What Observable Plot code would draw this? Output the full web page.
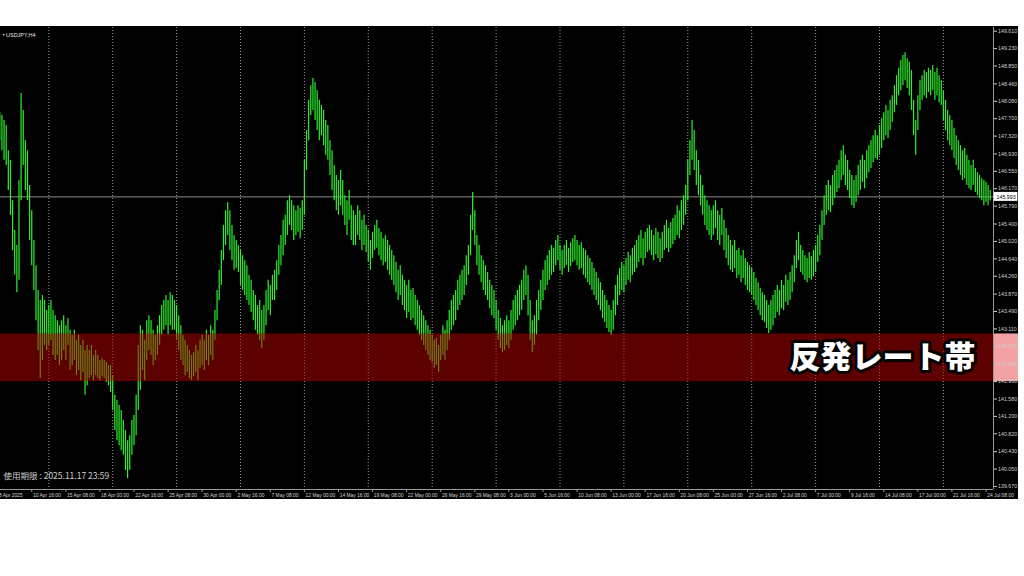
<!DOCTYPE html>
<html><head><meta charset="utf-8">
<script src="https://cdn.jsdelivr.net/npm/d3@7"></script>
<script src="https://cdn.jsdelivr.net/npm/@observablehq/plot@0.6"></script>
<style>
html,body{margin:0;padding:0;background:#fff;width:1024px;height:576px;overflow:hidden;}
#chart{position:absolute;left:0;top:26px;width:1018px;height:473px;background:#000;overflow:hidden;}
#chart text[aria-label="band-label"]{filter:drop-shadow(3px 3px 0 #555555);}
</style></head><body><div id="chart"></div>
<script>
const symbolLabel = "USDJPY,H4";
const expiryText = "使用期限 : 2025.11.17 23:59";
const bandLabel = "反発レート帯";
const currentPrice = 145.993;
const bandLow = 141.96, bandHigh = 143.00;
const priceTicks = [149.610,149.230,148.850,148.460,148.080,147.700,147.320,146.930,146.550,146.170,145.790,145.400,145.020,144.640,144.260,143.870,143.490,143.110,142.730,142.340,141.960,141.580,141.200,140.820,140.430,140.050,139.670];
const timeLabels = ["8 Apr 2025","10 Apr 16:00","15 Apr 08:00","18 Apr 00:00","22 Apr 16:00","25 Apr 08:00","30 Apr 00:00","2 May 16:00","7 May 08:00","12 May 00:00","14 May 16:00","19 May 08:00","22 May 00:00","26 May 16:00","29 May 08:00","3 Jun 00:00","5 Jun 16:00","10 Jun 08:00","13 Jun 00:00","17 Jun 16:00","20 Jun 08:00","25 Jun 00:00","27 Jun 16:00","2 Jul 08:00","7 Jul 00:00","9 Jul 16:00","14 Jul 08:00","17 Jul 00:00","21 Jul 16:00","24 Jul 08:00"];
const barsPerLabel = 16;      // H4 bars between time labels
const barsPerWeek = 30;       // grid line every Monday 00:00
const firstMondayBar = 24;

// H4 bars [high, low], 8 Apr 00:00 onward
const aprBars = [[147.88,147.33],[147.83,147.22],[147.77,147.00],[147.66,146.79],[147.55,146.68],[147.00,146.13],
[146.79,145.59],[145.91,144.82],[145.26,144.28],[144.93,143.90],[146.35,144.17],[148.25,145.91],
[147.88,146.68],[147.22,146.13],[147.00,145.91],[146.24,145.04],[145.69,144.49],[145.04,143.95],
[144.49,143.29],[143.95,142.64],[143.73,142.03],[143.84,142.42],[143.73,142.75],[143.51,142.64],
[143.62,142.75],[143.73,142.86],[143.51,142.53],[143.40,142.42],[143.29,142.53],[143.18,142.31],
[143.29,142.42],[143.40,142.64],[143.18,142.42],[143.34,142.75],[143.08,142.20],[142.97,142.31],
[143.08,142.42],[142.86,142.09],[142.97,142.20],[142.75,141.98],[142.86,142.16],[142.64,141.66],
[142.75,141.87],[142.64,142.03],[142.75,142.09],[142.53,141.98],[142.64,142.09],[142.53,142.03],
[142.42,141.98],[142.46,142.07],[142.42,142.03],[142.38,141.94],[142.31,141.87],[142.31,141.72],
[142.09,141.33],[141.66,140.89],[141.55,140.67],[141.44,140.56],[141.33,140.45],[141.11,140.35],
[140.89,140.02],[140.67,139.84],[140.78,140.02],[141.11,140.35],[141.22,140.56],[141.66,140.78],
[142.75,141.33],[143.18,141.77],[143.08,142.20],[142.86,141.98],[143.29,142.42],[143.40,142.64],
[143.29,142.53],[143.08,142.31],[142.97,142.42],[143.18,142.53],[143.40,142.75],[143.62,142.97],
[143.73,143.08],[143.84,143.18],[143.73,142.97],[143.90,143.18],[143.84,143.08],[143.73,143.08],
[143.62,142.86],[143.40,142.64],[143.18,142.42],[142.97,142.31],[142.86,142.09],[142.75,142.16],
[142.64,142.03],[142.53,141.98],[142.59,142.07],[142.75,142.16],[142.64,141.98],[142.86,142.25],
[142.97,142.31],[142.86,142.20],[143.08,142.42],[142.97,142.31],[143.18,142.53],[143.08,142.42]];
const mayBars = [[143.51,142.86],[143.95,143.29],[144.39,143.73],[144.82,144.06],[145.37,144.60],[145.69,144.93],
[145.87,145.15],[145.69,144.82],[145.37,144.60],[145.15,144.39],[145.04,144.43],[144.93,144.34],
[144.82,144.06],[144.71,143.95],[144.60,143.84],[144.49,143.73],[144.28,143.62],[144.17,143.47],
[143.95,143.29],[143.84,143.08],[143.62,142.97],[143.73,142.86],[143.51,142.68],[143.62,142.86],
[143.95,143.18],[144.17,143.51],[144.06,143.40],[144.28,143.73],[144.39,143.73],[144.60,143.95],
[144.93,144.28],[145.15,144.49],[145.48,144.71],[145.59,144.93],[145.91,145.15],[146.02,145.37],
[145.91,145.26],[145.80,145.04],[145.69,145.15],[145.80,145.22],[145.74,145.08],[145.91,145.26],
[146.79,145.59],[147.44,146.57],[148.10,147.22],[148.42,147.77],[148.58,147.88],[148.49,147.66],
[148.31,147.44],[148.10,147.22],[147.99,147.33],[147.88,147.11],[147.66,146.90],[147.55,146.79],
[147.22,146.46],[147.00,146.13],[146.68,145.91],[146.46,145.69],[146.35,145.59],[146.57,145.80],
[146.35,145.59],[146.02,145.37],[145.91,145.15],[146.13,145.48],[145.80,145.04],[145.69,144.93],
[145.59,144.93],[145.80,145.15],[145.69,145.04],[145.48,144.82],[145.59,144.93],[145.37,144.78],
[145.26,144.56],[145.04,144.39],[145.22,144.65],[145.37,144.82],[145.48,144.87],[145.30,144.71],
[145.22,144.60],[145.08,144.49],[145.15,144.56],[145.04,144.39],[144.93,144.28],[144.82,144.17],
[144.71,144.06],[144.56,143.90],[144.39,143.73],[144.49,143.84],[144.28,143.62],[144.17,143.51],
[144.06,143.34],[144.17,143.47],[143.95,143.29],[143.99,143.34],[143.84,143.18],[143.73,143.08],
[143.62,142.97],[143.51,142.86],[143.40,142.75],[143.29,142.64],[143.18,142.53],[143.08,142.42],
[142.97,142.38],[142.86,142.25],[142.90,142.31],[142.75,142.16],[142.97,142.42],[143.18,142.53],
[143.08,142.42],[143.29,142.64],[143.51,142.86],[143.73,143.08],[143.84,143.18],[143.95,143.29],
[144.17,143.51],[144.28,143.62],[144.39,143.73],[144.49,143.84],[144.71,144.06],[144.93,144.28],
[145.59,144.71],[146.09,145.26],[145.69,144.93],[145.15,144.49],[144.93,144.28],[144.71,144.12],
[144.60,143.95],[144.49,143.84],[144.34,143.73],[144.17,143.55],[144.06,143.40],[143.95,143.34]];
const junBars = [[143.73,143.08],[143.51,142.86],[143.34,142.68],[143.18,142.59],[143.29,142.64],[143.40,142.75],
[143.29,142.68],[143.51,142.86],[143.73,143.08],[143.84,143.18],[143.95,143.29],[144.06,143.40],
[144.17,143.51],[144.39,143.73],[144.49,143.84],[144.28,143.40],[143.73,142.86],[143.29,142.59],
[143.40,142.75],[143.73,142.97],[143.95,143.29],[144.17,143.51],[144.39,143.73],[144.60,143.95],
[144.71,144.06],[144.82,144.17],[144.93,144.28],[144.87,144.34],[145.04,144.49],[145.15,144.60],
[144.93,144.39],[144.82,144.28],[144.93,144.43],[145.04,144.49],[144.87,144.34],[144.99,144.47],
[145.08,144.56],[145.15,144.60],[145.04,144.49],[144.93,144.39],[144.99,144.43],[144.87,144.28],
[144.82,144.21],[144.71,144.12],[144.65,144.06],[144.56,143.95],[144.43,143.84],[144.34,143.73],
[144.21,143.62],[144.12,143.51],[143.95,143.34],[143.84,143.25],[143.73,143.12],[143.62,143.03],
[143.51,142.97],[143.73,143.08],[144.06,143.40],[144.28,143.62],[144.43,143.84],[144.56,143.95],
[144.49,143.90],[144.65,144.06],[144.78,144.17],[144.71,144.12],[144.87,144.28],[144.93,144.34],
[145.04,144.43],[145.15,144.56],[145.26,144.65],[145.08,144.49],[145.22,144.65],[145.30,144.78],
[145.37,144.82],[145.26,144.71],[145.15,144.60],[145.30,144.73],[145.22,144.65],[145.08,144.56],
[145.22,144.65],[145.37,144.82],[145.48,144.87],[145.30,144.78],[145.43,144.87],[145.52,144.95],
[145.59,145.04],[145.80,145.15],[145.69,145.08],[145.91,145.26],[146.02,145.37],[146.24,145.59],
[146.79,145.91],[147.22,146.46],[147.66,146.79],[147.44,146.57],[147.00,146.24],[146.79,146.02],
[146.46,145.80],[146.24,145.59],[146.02,145.37],[145.91,145.26],[145.80,145.15],[145.69,145.04],
[145.80,145.15],[145.91,145.30],[145.69,145.04],[145.59,144.93],[145.74,145.15],[145.48,144.82],
[145.30,144.65],[145.15,144.49],[145.04,144.39],[144.93,144.34],[145.04,144.43],[144.82,144.21],
[144.87,144.28],[144.71,144.12],[144.82,144.21],[144.65,144.06],[144.56,143.95],[144.49,143.90],
[144.43,143.84],[144.34,143.73],[144.21,143.62],[144.12,143.51],[143.99,143.40],[143.90,143.29]];
const julBars = [[143.84,143.25],[143.73,143.12],[143.62,143.01],[143.73,143.08],[143.84,143.18],[143.95,143.34],
[144.06,143.47],[143.95,143.40],[144.17,143.55],[144.06,143.51],[144.28,143.69],[144.17,143.62],
[144.34,143.73],[144.49,143.90],[144.71,144.12],[145.04,144.43],[145.22,144.60],[144.93,144.34],
[144.82,144.28],[144.71,144.17],[144.65,144.12],[144.78,144.21],[144.69,144.17],[144.82,144.25],
[144.93,144.34],[145.15,144.56],[145.37,144.71],[145.69,145.04],[146.02,145.37],[146.24,145.59],
[146.35,145.69],[146.24,145.65],[146.46,145.80],[146.57,145.96],[146.68,146.09],[146.79,146.17],
[147.00,146.35],[147.11,146.46],[146.90,146.24],[146.79,146.13],[146.57,145.96],[146.46,145.80],
[146.35,145.74],[146.46,145.87],[146.68,146.02],[146.79,146.13],[146.90,146.31],[146.79,146.17],
[147.00,146.39],[147.11,146.52],[147.22,146.61],[147.33,146.74],[147.44,146.83],[147.33,146.79],
[147.55,146.90],[147.70,147.05],[147.83,147.22],[147.99,147.33],[147.88,147.27],[148.10,147.44],
[148.20,147.62],[148.42,147.83],[148.64,147.99],[148.80,148.20],[148.97,148.31],[149.08,148.42],
[149.14,148.53],[149.01,148.36],[148.93,148.20],[148.75,147.88],[148.10,147.33],[147.66,146.90],
[148.20,147.44],[148.53,147.88],[148.64,148.10],[148.75,148.20],[148.71,148.14],[148.80,148.27],
[148.75,148.20],[148.86,148.31],[148.71,148.10],[148.80,148.20],[148.64,148.05],[148.53,147.99],
[148.31,147.66],[148.10,147.44],[147.88,147.22],[147.77,147.11],[147.66,147.00],[147.49,146.83],
[147.33,146.68],[147.22,146.57],[147.11,146.46],[147.00,146.35],[147.05,146.39],[146.90,146.24],
[146.79,146.17],[146.68,146.13],[146.79,146.24],[146.61,146.09],[146.52,146.02],[146.46,145.96],
[146.39,145.91],[146.35,145.80],[146.31,145.87],[146.24,145.80],[146.13,145.91]];

const bars = [...aprBars, ...mayBars, ...junBars, ...julBars].map(([high, low], i) => ({i, high, low}));
const timeTicks = timeLabels.map((label, k) => ({i: k * barsPerLabel, label}));
const gridBars = d3.range(firstMondayBar, bars.length, barsPerWeek);

const W = 1018, H = 473, mT = 1, mB = 10, mL = 0, mR = 25;
const pxPerBar = 2.13, firstBarX = -2.82;
const xDomain = [(mL - firstBarX) / pxPerBar, (W - mR - firstBarX) / pxPerBar];
const yDomain = [139.604, 149.691];
const pxPerYen = (H - mT - mB) / (yDomain[1] - yDomain[0]);
const axisEnd = xDomain[1] + mR / pxPerBar;
const axisFont = "'Liberation Sans', Arial, sans-serif";
const band = [{y1: bandLow, y2: bandHigh}];

const chart = Plot.plot({
  width: W, height: H,
  marginTop: mT, marginBottom: mB, marginLeft: mL, marginRight: mR,
  x: {domain: xDomain, axis: null},
  y: {domain: yDomain, axis: null},
  style: {background: "transparent", fontFamily: axisFont, overflow: "hidden"},
  marks: [
    Plot.ruleX(gridBars, {stroke: "#9a9a9a", strokeDasharray: "1,2", strokeWidth: 1}),
    Plot.ruleY([currentPrice], {stroke: "#8c8c8c", strokeWidth: 1}),
    Plot.ruleX(bars, {x: "i", y1: "low", y2: "high", stroke: "#2cf02c", strokeWidth: 1.2}),
    Plot.rect(band, {y1: "y1", y2: "y2", fill: "#b80000", fillOpacity: 0.5}),
    Plot.rect(band, {x1: xDomain[1], x2: axisEnd, y1: "y1", y2: "y2", fill: "#f2a2a2"}),
    Plot.ruleX([xDomain[1]], {stroke: "#9a9a9a"}),
    Plot.ruleY([yDomain[0]], {stroke: "#9a9a9a"}),
    Plot.axisY({ticks: priceTicks, anchor: "right", tickSize: 3, tickPadding: 1.5,
      tickFormat: d => d.toFixed(3), fontSize: 5.3, color: "#cfcfcf", label: null}),
    Plot.ruleX(timeTicks, {x: "i", y1: yDomain[0], y2: yDomain[0] - 3 / pxPerYen, stroke: "#9a9a9a"}),
    Plot.text(timeTicks, {x: "i", frameAnchor: "bottom", text: "label", dx: 1.2, dy: 5.5,
      textAnchor: "start", lineAnchor: "middle", fontSize: 4.9, fill: "#d6d6d6"}),
    Plot.rect([currentPrice], {x1: xDomain[1] + 0.6 / pxPerBar, x2: axisEnd - 0.6 / pxPerBar,
      y1: d => d - 4.5 / pxPerYen, y2: d => d + 4.5 / pxPerYen, fill: "white"}),
    Plot.text([currentPrice], {x: xDomain[1] + 3 / pxPerBar, y: d => d, text: d => d.toFixed(3),
      textAnchor: "start", fontSize: 5.3, fill: "black"}),
    Plot.text(["▼"], {frameAnchor: "top-left", dx: 1.5, dy: 6, fontSize: 3.5, fill: "#dddddd", textAnchor: "start"}),
    Plot.text([symbolLabel], {frameAnchor: "top-left", dx: 5.5, dy: 6, fontSize: 5.5, fill: "#e6e6e6", textAnchor: "start"}),
    Plot.text([expiryText], {frameAnchor: "bottom-left", dx: 3, dy: -11, fontSize: 8.5, fill: "#cfcfcf",
      textAnchor: "start", fontFamily: "'Noto Sans CJK JP', sans-serif"}),
    Plot.text([bandLabel], {y: (bandLow + bandHigh) / 2, frameAnchor: "right", dx: -18,
      textAnchor: "end", fontSize: 31, fontWeight: 900, fontFamily: "'Noto Sans CJK JP', sans-serif",
      fill: "white", stroke: "black", strokeWidth: 6, strokeLinejoin: "round", paintOrder: "stroke",
      ariaLabel: "band-label"})
  ]
});
document.getElementById("chart").appendChild(chart);
</script></body></html>
